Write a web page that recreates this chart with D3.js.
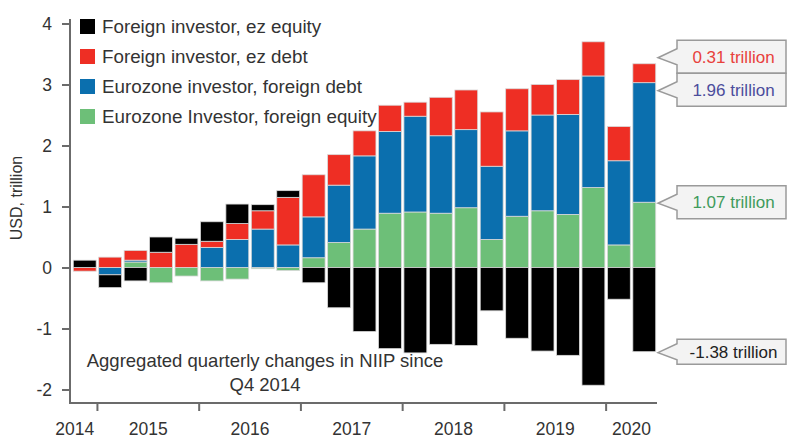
<!DOCTYPE html>
<html><head><meta charset="utf-8">
<script src="https://cdn.jsdelivr.net/npm/d3@7"></script>
<style>
body{margin:0;background:#fff;}
text{font-family:"Liberation Sans",Arial,Helvetica,sans-serif;}
</style></head><body><svg id="c" width="789" height="438"></svg>
<script>
// ---- data ----
const quarters = ["Q4 2014","Q1 2015","Q2 2015","Q3 2015","Q4 2015","Q1 2016","Q2 2016","Q3 2016","Q4 2016",
  "Q1 2017","Q2 2017","Q3 2017","Q4 2017","Q1 2018","Q2 2018","Q3 2018","Q4 2018",
  "Q1 2019","Q2 2019","Q3 2019","Q4 2019","Q1 2020","Q2 2020"];
const foreignEzEquity = [0.12,-0.21,-0.22,0.25,0.10,0.32,0.32,0.10,0.11,-0.25,-0.66,-1.05,-1.33,-1.40,-1.26,-1.28,-0.71,-1.16,-1.37,-1.44,-1.93,-0.52,-1.38];
const foreignEzDebt   = [-0.06,0.17,0.16,0.25,0.38,0.10,0.26,0.30,0.78,0.69,0.50,0.41,0.43,0.23,0.63,0.65,0.89,0.69,0.50,0.57,0.56,0.56,0.31];
const ezForeignDebt   = [0,-0.12,0.03,0,0,0.33,0.46,0.63,0.37,0.67,0.94,1.20,1.34,1.57,1.27,1.28,1.20,1.40,1.57,1.64,1.83,1.38,1.96];
const ezForeignEquity = [0,0,0.09,-0.25,-0.14,-0.22,-0.19,-0.02,-0.05,0.16,0.41,0.63,0.89,0.91,0.89,0.98,0.46,0.84,0.93,0.87,1.31,0.37,1.07];
const seriesNames = ["Foreign investor, ez equity","Foreign investor, ez debt","Eurozone investor, foreign debt","Eurozone Investor, foreign equity"];
const seriesColors = ["#000000","#ee2e24","#0b6fae","#6dbf78"];
const yTicks = [-2,-1,0,1,2,3,4];
const yearLabels = ["2014","2015","2016","2017","2018","2019","2020"];
const calloutTexts = ["0.31 trillion","1.96 trillion","1.07 trillion","-1.38 trillion"];
const calloutColors = ["#e8413c","#4b4d9c","#3f9b5c","#222222"];

// ---- build ----
const keys = ["green","blue","red","black"];
const table = quarters.map((q,i)=>({q, black:foreignEzEquity[i], red:foreignEzDebt[i], blue:ezForeignDebt[i], green:ezForeignEquity[i]}));
const colorOf = {black:seriesColors[0], red:seriesColors[1], blue:seriesColors[2], green:seriesColors[3]};
const stacked = d3.stack().keys(keys).offset(d3.stackOffsetDiverging)(table);

const svg = d3.select("#c");
const x = d3.scaleBand().domain(quarters).range([72,657]).paddingInner(0.1).paddingOuter(0.05);
const y = d3.scaleLinear().domain([-2,4]).range([389.5,23.5]);

// bars
svg.append("g").selectAll("g").data(stacked).join("g")
  .attr("fill", d=>colorOf[d.key])
  .selectAll("rect").data(d=>d).join("rect")
  .attr("x", d=>x(d.data.q))
  .attr("width", x.bandwidth())
  .attr("y", d=>y(Math.max(d[0],d[1])))
  .attr("height", d=>Math.abs(y(d[0])-y(d[1])))
  .attr("stroke","#d9d9d9").attr("stroke-width",0.8);

// y axis
const axisColor = "#6b6b6b";
const yAxis = svg.append("g").attr("transform","translate(70,0)")
  .call(d3.axisLeft(y).tickValues(yTicks).tickSize(8).tickPadding(10).tickFormat(d=>String(d)));
yAxis.select(".domain").remove();
yAxis.append("line").attr("x1",0).attr("x2",0).attr("y1",19).attr("y2",404).attr("stroke",axisColor).attr("stroke-width",2);
yAxis.selectAll(".tick line").attr("stroke",axisColor).attr("stroke-width",2);
yAxis.selectAll(".tick text").attr("fill","#333").attr("font-size",17.5).attr("font-family","Liberation Sans, Arial");

svg.append("text").attr("transform","translate(22,198) rotate(-90)").attr("text-anchor","middle")
  .attr("fill","#333").attr("font-size",16).text("USD, trillion");

// x axis
svg.append("line").attr("x1",69).attr("x2",657).attr("y1",403).attr("y2",403).attr("stroke",axisColor).attr("stroke-width",2);
const yearStartIdx = [1,5,9,13,17,21];
svg.append("g").selectAll("line").data(yearStartIdx).join("line")
  .attr("x1",i=>x(quarters[i]) - x.step()*x.paddingInner()/2)
  .attr("x2",i=>x(quarters[i]) - x.step()*x.paddingInner()/2)
  .attr("y1",403).attr("y2",411).attr("stroke",axisColor).attr("stroke-width",2);
svg.append("g").selectAll("text").data(yearLabels).join("text")
  .attr("x",(yr,k)=>{
    const qs = quarters.filter(q=>q.endsWith(yr));
    const a = x(qs[0]), b = x(qs[qs.length-1]) + x.bandwidth();
    return k===0 ? b - 2 : (a+b)/2;
  })
  .attr("text-anchor",(yr,k)=>k===0?"end":"middle")
  .attr("y",435).attr("fill","#333").attr("font-size",17.5).text(d=>d);

// legend
const leg = svg.append("g").selectAll("g").data(seriesNames).join("g")
  .attr("transform",(d,i)=>`translate(80,${19 + i*30})`);
leg.append("rect").attr("width",15).attr("height",15).attr("fill",(d,i)=>seriesColors[i]);
leg.append("text").attr("x",22).attr("y",14).attr("fill","#333").attr("font-size",18.8).text(d=>d);

// annotation
const ann = svg.append("text").attr("text-anchor","middle").attr("fill","#333").attr("font-size",18.5);
ann.append("tspan").attr("x",265).attr("y",367).text("Aggregated quarterly changes in NIIP since");
ann.append("tspan").attr("x",265).attr("y",391).text("Q4 2014");

// callouts for last quarter
const last = quarters.length-1;
const byKey = Object.fromEntries(stacked.map(s=>[s.key,s[last]]));
const targets = [y(byKey.red[1]), y(byKey.blue[1]), y(byKey.green[1]), y(byKey.black[0])];
const heights = [33,33,33,25];
let centers = targets.slice();
for (let it=0; it<20; it++) {
  for (let i=0;i<centers.length-1;i++){
    const need = (heights[i]+heights[i+1])/2;
    const gap = centers[i+1]-centers[i];
    if (gap < need) { const m=(centers[i]+centers[i+1])/2; centers[i]=m-need/2; centers[i+1]=m+need/2; }
  }
}
const bx0 = 677, bx1 = 786, tipX = 658;
const cg = svg.append("g").selectAll("g").data(calloutTexts).join("g");
cg.append("path").attr("d",(t,i)=>{
    const c=centers[i], h=heights[i], t0=c-h/2, t1=c+h/2;
    return `M${bx0},${t0}H${bx1}V${t1}H${bx0}V${c+8}L${tipX},${c+1}L${bx0},${c-8}Z`;
  })
  .attr("fill","#f3f3f3").attr("stroke","#9a9a9a").attr("stroke-width",1.5);
cg.append("text").attr("x",(bx0+bx1)/2+2).attr("y",(t,i)=>centers[i]+6).attr("text-anchor","middle")
  .attr("font-size",17).attr("fill",(t,i)=>calloutColors[i]).text(d=>d);
</script></body></html>
